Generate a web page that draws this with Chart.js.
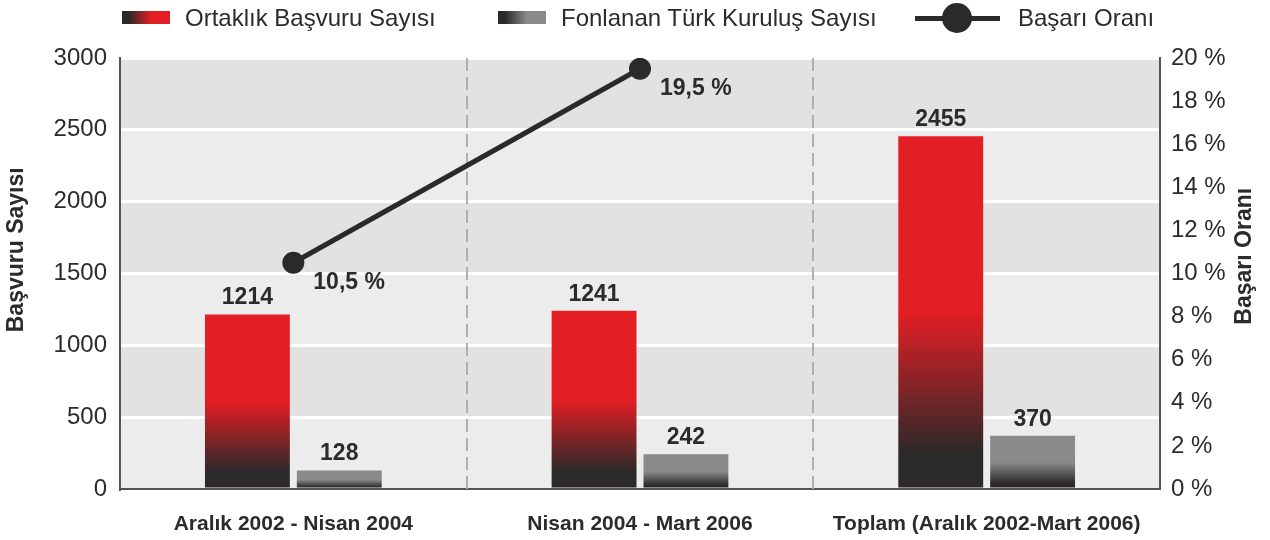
<!DOCTYPE html>
<html>
<head>
<meta charset="utf-8">
<script src="https://cdn.jsdelivr.net/npm/chart.js@4"></script>
<style>
  html, body { margin: 0; padding: 0; background: #fff; }
  #wrap { position: relative; width: 1270px; height: 540px; }
  #legend { position: absolute; left: 0; top: 0; width: 1270px; height: 40px;
    font: 24px 'Liberation Sans', Arial, sans-serif; color: #2b2b2b; }
  #legend .box { position: absolute; top: 11px; width: 48px; height: 13px; }
  #legend .txt { position: absolute; top: 5px; line-height: 26px; white-space: nowrap; }
  #legend .ln { position: absolute; top: 16px; width: 85px; height: 5px; background: #2b2929; }
  #legend .dot { position: absolute; top: 3px; width: 30px; height: 30px; border-radius: 50%; background: #2b2929; }
</style>
</head>
<body>
<div id="wrap">
  <canvas id="chart" width="1270" height="540"></canvas>
  <div id="legend">
    <div class="box" style="left:122px;background:linear-gradient(to right,#2b2929 0%,#2b2929 15%,#e31e24 60%,#e31e24 100%)"></div>
    <div class="txt" style="left:185px">Ortaklık Başvuru Sayısı</div>
    <div class="box" style="left:498px;background:linear-gradient(to right,#2b2929 0%,#2b2929 15%,#8a8a8a 60%,#8a8a8a 100%)"></div>
    <div class="txt" style="left:561px">Fonlanan Türk Kuruluş Sayısı</div>
    <div class="ln" style="left:915px"></div>
    <div class="dot" style="left:942px"></div>
    <div class="txt" style="left:1018px">Başarı Oranı</div>
  </div>
</div>
<script>
const categories = ['Aralık 2002 - Nisan 2004', 'Nisan 2004 - Mart 2006', 'Toplam (Aralık 2002-Mart 2006)'];
const applications = [1214, 1241, 2455];
const fundedOrgs = [128, 242, 370];
const successRate = [10.5, 19.5, null];
const leftTicks = [0, 500, 1000, 1500, 2000, 2500, 3000];
const rightTicks = [0, 2, 4, 6, 8, 10, 12, 14, 16, 18, 20];

const DARK = '#2b2929';
const RED = '#e31e24';
const GREY = '#8a8a8a';
const TEXT = '#2b2b2b';
const FONT = "'Liberation Sans', Arial, sans-serif";

Chart.defaults.font.family = FONT;
Chart.defaults.color = TEXT;

function barFill(light) {
  return (c) => {
    const chart = c.chart;
    if (c.type !== 'data' || !chart.chartArea) return light;
    const y = chart.scales.y;
    const base = y.getPixelForValue(0);
    const top = y.getPixelForValue(c.raw);
    if (top >= base) return light;
    const g = chart.ctx.createLinearGradient(0, base, 0, top);
    g.addColorStop(0, DARK);
    g.addColorStop(0.1, DARK);
    g.addColorStop(0.5, light);
    g.addColorStop(1, light);
    return g;
  };
}

// alternating bands, dashed separators, axis titles
const backdrop = {
  id: 'backdrop',
  beforeDraw(chart) {
    const { ctx, chartArea: a, scales } = chart;
    const y = scales.y;
    ctx.save();
    for (let i = 0; i < leftTicks.length - 1; i++) {
      const y0 = y.getPixelForValue(leftTicks[i]);
      const y1 = y.getPixelForValue(leftTicks[i + 1]);
      ctx.fillStyle = i % 2 === 0 ? '#ececec' : '#e2e2e2';
      ctx.fillRect(a.left, y1, a.right - a.left, y0 - y1);
    }
    ctx.restore();
  },
  beforeDatasetsDraw(chart) {
    const { ctx, chartArea: a, scales } = chart;
    const x = scales.x;
    ctx.save();
    ctx.strokeStyle = '#b0b0b0';
    ctx.lineWidth = 2;
    ctx.setLineDash([13, 6]);
    for (let i = 0; i < categories.length - 1; i++) {
      const px = Math.round((x.getPixelForValue(i) + x.getPixelForValue(i + 1)) / 2);
      ctx.beginPath();
      ctx.moveTo(px, a.top);
      ctx.lineTo(px, a.bottom);
      ctx.stroke();
    }
    ctx.restore();
  },
  afterDraw(chart) {
    const { ctx, chartArea: a } = chart;
    const h = a.bottom - a.top;
    ctx.save();
    ctx.font = 'bold 23px ' + FONT;
    ctx.fillStyle = TEXT;
    ctx.textAlign = 'center';
    ctx.textBaseline = 'middle';
    [['Başvuru Sayısı', 17, a.top + h * 0.445], ['Başarı Oranı', a.right + 85, a.top + h * 0.46]].forEach(([t, x, y]) => {
      ctx.save();
      ctx.translate(x, y);
      ctx.rotate(-Math.PI / 2);
      ctx.fillText(t, 0, 0);
      ctx.restore();
    });
    ctx.restore();
  }
};

const valueLabels = {
  id: 'valueLabels',
  afterDatasetsDraw(chart) {
    const { ctx } = chart;
    ctx.save();
    ctx.font = 'bold 23px ' + FONT;
    ctx.fillStyle = TEXT;
    [0, 1].forEach(di => {
      const meta = chart.getDatasetMeta(di);
      meta.data.forEach((el, i) => {
        ctx.textAlign = 'center';
        ctx.textBaseline = 'bottom';
        ctx.fillText(String(chart.data.datasets[di].data[i]), el.x, el.y - 5);
      });
    });
    const lm = chart.getDatasetMeta(2);
    lm.data.forEach((el, i) => {
      const v = successRate[i];
      if (v == null) return;
      ctx.textAlign = 'left';
      ctx.textBaseline = 'middle';
      ctx.fillText(String(v).replace('.', ',') + ' %', el.x + 20, el.y + 20);
    });
    ctx.restore();
  }
};

new Chart(document.getElementById('chart'), {
  type: 'bar',
  data: {
    labels: categories,
    datasets: [
      { label: 'Ortaklık Başvuru Sayısı', data: applications, backgroundColor: barFill(RED),
        yAxisID: 'y', categoryPercentage: 0.53, barPercentage: 0.924, order: 2 },
      { label: 'Fonlanan Türk Kuruluş Sayısı', data: fundedOrgs, backgroundColor: barFill(GREY),
        yAxisID: 'y', categoryPercentage: 0.53, barPercentage: 0.924, order: 2 },
      { type: 'line', label: 'Başarı Oranı', data: successRate, yAxisID: 'y1',
        borderColor: DARK, backgroundColor: DARK, borderWidth: 5, pointRadius: 11,
        pointBackgroundColor: DARK, pointBorderWidth: 0, spanGaps: false, order: 1 }
    ]
  },
  options: {
    responsive: false,
    animation: false,
    layout: { padding: { top: 58, right: 0, left: 0, bottom: 0 } },
    plugins: { legend: { display: false }, tooltip: { enabled: false } },
    scales: {
      x: {
        grid: { display: false },
        border: { display: true, color: '#555', width: 2 },
        ticks: { font: { size: 21, weight: 'bold' }, color: TEXT, padding: 15, maxRotation: 0 },
        afterFit: s => { s.height = 51; }
      },
      y: {
        position: 'left', min: 0, max: 3000,
        afterBuildTicks: s => { s.ticks = leftTicks.map(v => ({ value: v })); },
        grid: { color: '#ffffff', lineWidth: 3, drawTicks: false },
        border: { display: true, color: '#555', width: 2 },
        ticks: { font: { size: 24 }, color: TEXT, padding: 13, callback: v => String(v) },
        afterFit: s => { s.width = 120; }
      },
      y1: {
        position: 'right', min: 0, max: 20,
        afterBuildTicks: s => { s.ticks = rightTicks.map(v => ({ value: v })); },
        grid: { display: false, drawTicks: false },
        border: { display: true, color: '#555', width: 2 },
        ticks: { font: { size: 24 }, color: TEXT, padding: 11, callback: v => v + ' %' },
        afterFit: s => { s.width = 110; }
      }
    }
  },
  plugins: [backdrop, valueLabels]
});
</script>
</body>
</html>
